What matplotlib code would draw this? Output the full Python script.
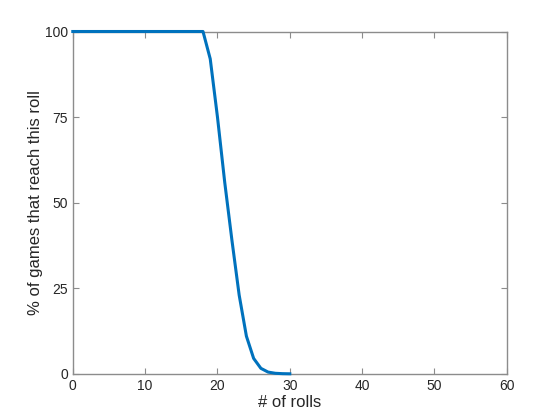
import matplotlib
matplotlib.use("Agg")
import matplotlib.pyplot as plt

# roll number vs share of games still running
rolls = list(range(0, 31))
pct_reached = [100] * 19 + [92, 75, 56, 39, 23, 11, 4.5, 1.6, 0.5, 0.15, 0.04, 0.0]

x_ticks = [0, 10, 20, 30, 40, 50, 60]
y_ticks = [0, 25, 50, 75, 100]

plt.rcParams['font.family'] = ['Liberation Sans', 'DejaVu Sans']

fig = plt.figure(figsize=(5.6, 4.2), dpi=100)
ax = fig.add_axes([0.13, 0.11, 0.775, 0.815])

ax.plot(rolls, pct_reached, color='#0072BD', linewidth=2.2, clip_on=False, zorder=5)

ax.set_xlim(0, 60)
ax.set_ylim(0, 100)
ax.set_xticks(x_ticks)
ax.set_yticks(y_ticks)

edge = '#8c8c8c'
for s in ax.spines.values():
    s.set_color(edge)
    s.set_linewidth(1.0)
ax.tick_params(direction='in', length=4, width=0.8, color=edge,
               labelsize=10, labelcolor='#262626', top=True, right=True)

ax.set_xlabel('# of rolls', fontsize=12, color='#262626', labelpad=2)
ax.set_ylabel('% of games that reach this roll', fontsize=12, color='#262626', labelpad=1)

fig.savefig('out.png', dpi=100)
